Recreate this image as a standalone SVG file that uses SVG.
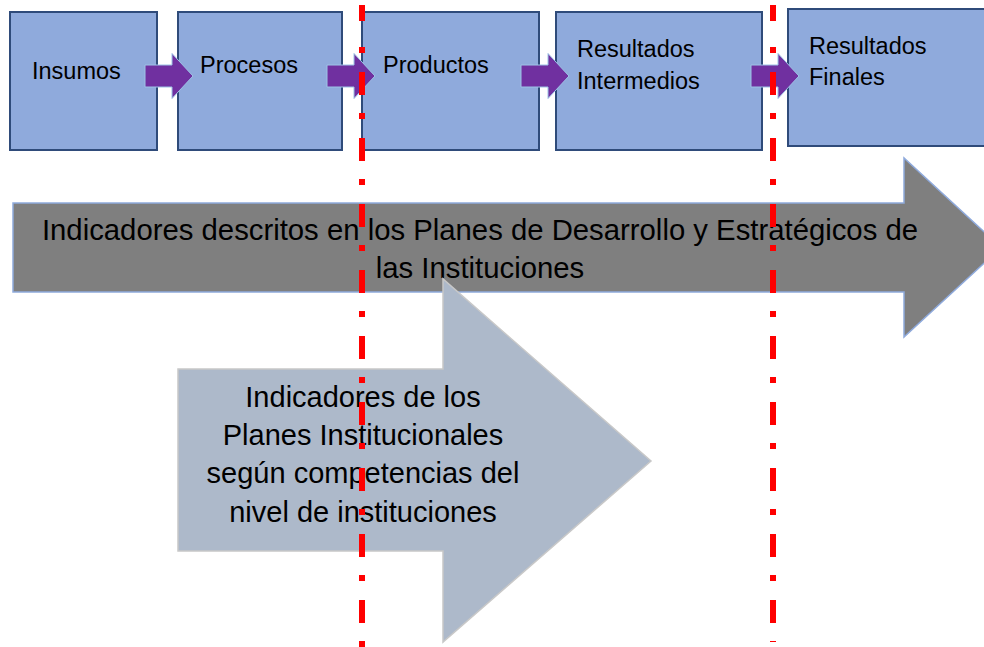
<svg xmlns="http://www.w3.org/2000/svg" xmlns:xlink="http://www.w3.org/1999/xlink" width="984" height="647" viewBox="0 0 984 647">
<style>
.box{fill:#8FAADC;stroke:#2F4B7A;stroke-width:2}
.t{font-family:"Liberation Sans",Arial,sans-serif;fill:#000}
.bt{font-size:23.5px}
.at{font-size:29.3px}
.it{font-size:29px}
.red{stroke:#FF0000;stroke-width:6;fill:none;stroke-dasharray:6 19 23 18}
</style>
<defs>
<path id="pa" d="M0,-11 H27 V-22.5 L48,0 L27,22.5 V11 H0 Z" fill="#7030A0" stroke="#9DC3E6" stroke-width="1"/>
</defs>
<rect width="984" height="647" fill="#FFFFFF"/>
<g id="big-arrow">
<polygon points="13,203 904,203 904,158 1001,247.5 904,337 904,292 13,292" fill="#7F7F7F" stroke="#8FAADC" stroke-width="1.5"/>
<text class="t at" text-anchor="middle" x="480" y="240">Indicadores descritos en los Planes de Desarrollo y Estratégicos de</text>
<text class="t at" text-anchor="middle" x="480" y="278">las Instituciones</text>
</g>
<g id="inst-arrow">
<polygon points="178,369 443,369 443,279 651,461 443,642 443,551 178,551" fill="#ADB9CA" stroke="#C8C8C8" stroke-width="1.5"/>
<text class="t it" text-anchor="middle" x="363" y="407">Indicadores de los</text>
<text class="t it" text-anchor="middle" x="363" y="445">Planes Institucionales</text>
<text class="t it" text-anchor="middle" x="363" y="483">según competencias del</text>
<text class="t it" text-anchor="middle" x="363" y="522">nivel de instituciones</text>
</g>
<g id="insumos">
<rect class="box" x="10" y="12" width="147" height="138"/>
<text class="t bt" x="32" y="79">Insumos</text>
</g>
<g id="procesos">
<rect class="box" x="178" y="12" width="164" height="138"/>
<text class="t bt" x="200" y="73">Procesos</text>
</g>
<g id="productos">
<rect class="box" x="362" y="12" width="177" height="138"/>
<text class="t bt" x="383" y="73">Productos</text>
</g>
<g id="resultados-intermedios">
<rect class="box" x="556" y="12" width="206" height="138"/>
<text class="t bt" x="577" y="57">Resultados</text>
<text class="t bt" x="577" y="89">Intermedios</text>
</g>
<g id="resultados-finales">
<rect class="box" x="788" y="9" width="210" height="137"/>
<text class="t bt" x="809" y="54">Resultados</text>
<text class="t bt" x="809" y="85">Finales</text>
</g>
<g id="connectors">
<use xlink:href="#pa" transform="translate(145,76)"/>
<use xlink:href="#pa" transform="translate(327,76)"/>
<use xlink:href="#pa" transform="translate(521,76)"/>
<use xlink:href="#pa" transform="translate(751,76)"/>
</g>
<g id="dividers">
<rect x="359" y="5" width="6" height="16" fill="#FF0000"/>
<line class="red" x1="362" y1="47" x2="362" y2="647"/>
<rect x="770" y="5" width="6" height="16" fill="#FF0000"/>
<line class="red" x1="773" y1="47" x2="773" y2="642"/>
</g>
</svg>
